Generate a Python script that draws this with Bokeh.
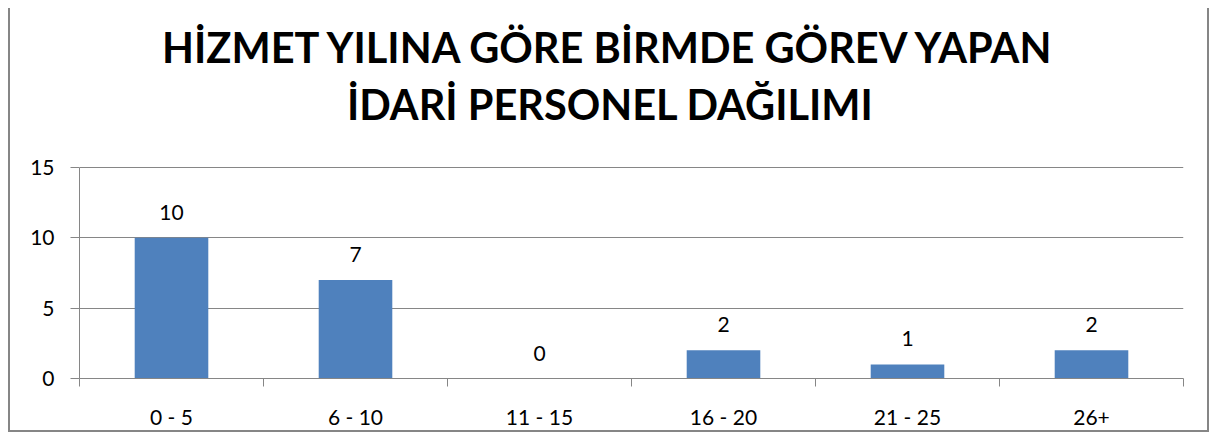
from bokeh.plotting import figure
from bokeh.models import ColumnDataSource, LabelSet, FixedTicker, Range1d, Label
from bokeh.core.properties import value
from bokeh.embed import file_html
from bokeh.resources import INLINE

categories = ["0 - 5", "6 - 10", "11 - 15", "16 - 20", "21 - 25", "26+"]
counts = [10, 7, 0, 2, 1, 2]
y_ticks = [0, 5, 10, 15]
title_lines = ["HİZMET YILINA GÖRE BİRMDE GÖREV YAPAN", "İDARİ PERSONEL DAĞILIMI"]

GRAY = "#868686"
BAR = "#4F81BD"
FONT = "Lato"

idx = list(range(len(categories)))
src = ColumnDataSource(dict(x=idx, top=counts, label=[str(c) for c in counts]))

# the plot frame reaches the top of the chart so the title can live inside it;
# the axis and grid are bounded to the 0-15 value range
p = figure(width=1201, height=424, title=None,
           x_range=Range1d(-0.5, len(categories) - 0.5),
           y_range=Range1d(y_ticks[0], 26.3),
           output_backend="svg", toolbar_location=None,
           min_border_left=69, min_border_right=28,
           min_border_bottom=54, min_border_top=0)

p.styles = {"margin-left": "8px", "margin-top": "8px",
            "border-left": f"2px solid {GRAY}",
            "border-right": f"2px solid {GRAY}",
            "border-bottom": f"2px solid {GRAY}"}

for line, sy in zip(title_lines, [332, 275]):
    p.add_layout(Label(x=531, y=sy, x_units="screen", y_units="screen", text=line,
                       text_align="center", text_baseline="alphabetic",
                       text_font=FONT, text_font_size="41.5px",
                       text_font_style="bold", text_color="black"))

p.vbar(x="x", top="top", width=0.4, source=src, color=BAR, line_color=None)

labels = LabelSet(x="x", y="top", text="label", source=src, text_align="center",
                  text_baseline="bottom", y_offset=18, text_font=value(FONT),
                  text_font_size=value("21px"), text_color="black")
p.add_layout(labels)

p.outline_line_color = None
p.xgrid.grid_line_color = None
p.ygrid.grid_line_color = GRAY
p.ygrid.ticker = FixedTicker(ticks=y_ticks)
p.ygrid.bounds = (y_ticks[0], y_ticks[-1])

ya = p.yaxis[0]
ya.ticker = FixedTicker(ticks=y_ticks)
ya.bounds = (y_ticks[0], y_ticks[-1])
ya.axis_line_color = GRAY
ya.major_tick_line_color = GRAY
ya.major_tick_out = 9
ya.major_tick_in = 0
ya.minor_tick_line_color = None
ya.major_label_standoff = 16
ya.major_label_text_font = FONT
ya.major_label_text_font_size = "21px"
ya.major_label_text_color = "black"

xa = p.xaxis[0]
xa.ticker = FixedTicker(ticks=idx, minor_ticks=[i - 0.5 for i in range(len(categories) + 1)])
xa.major_label_overrides = {i: c for i, c in zip(idx, categories)}
xa.axis_line_color = GRAY
xa.major_tick_line_color = None
xa.major_tick_out = 0
xa.major_tick_in = 0
xa.minor_tick_line_color = GRAY
xa.minor_tick_out = 8
xa.minor_tick_in = 0
xa.major_label_standoff = 17
xa.major_label_text_font = FONT
xa.major_label_text_font_size = "21px"
xa.major_label_text_color = "black"

open("out.html", "w").write(file_html(p, INLINE))
